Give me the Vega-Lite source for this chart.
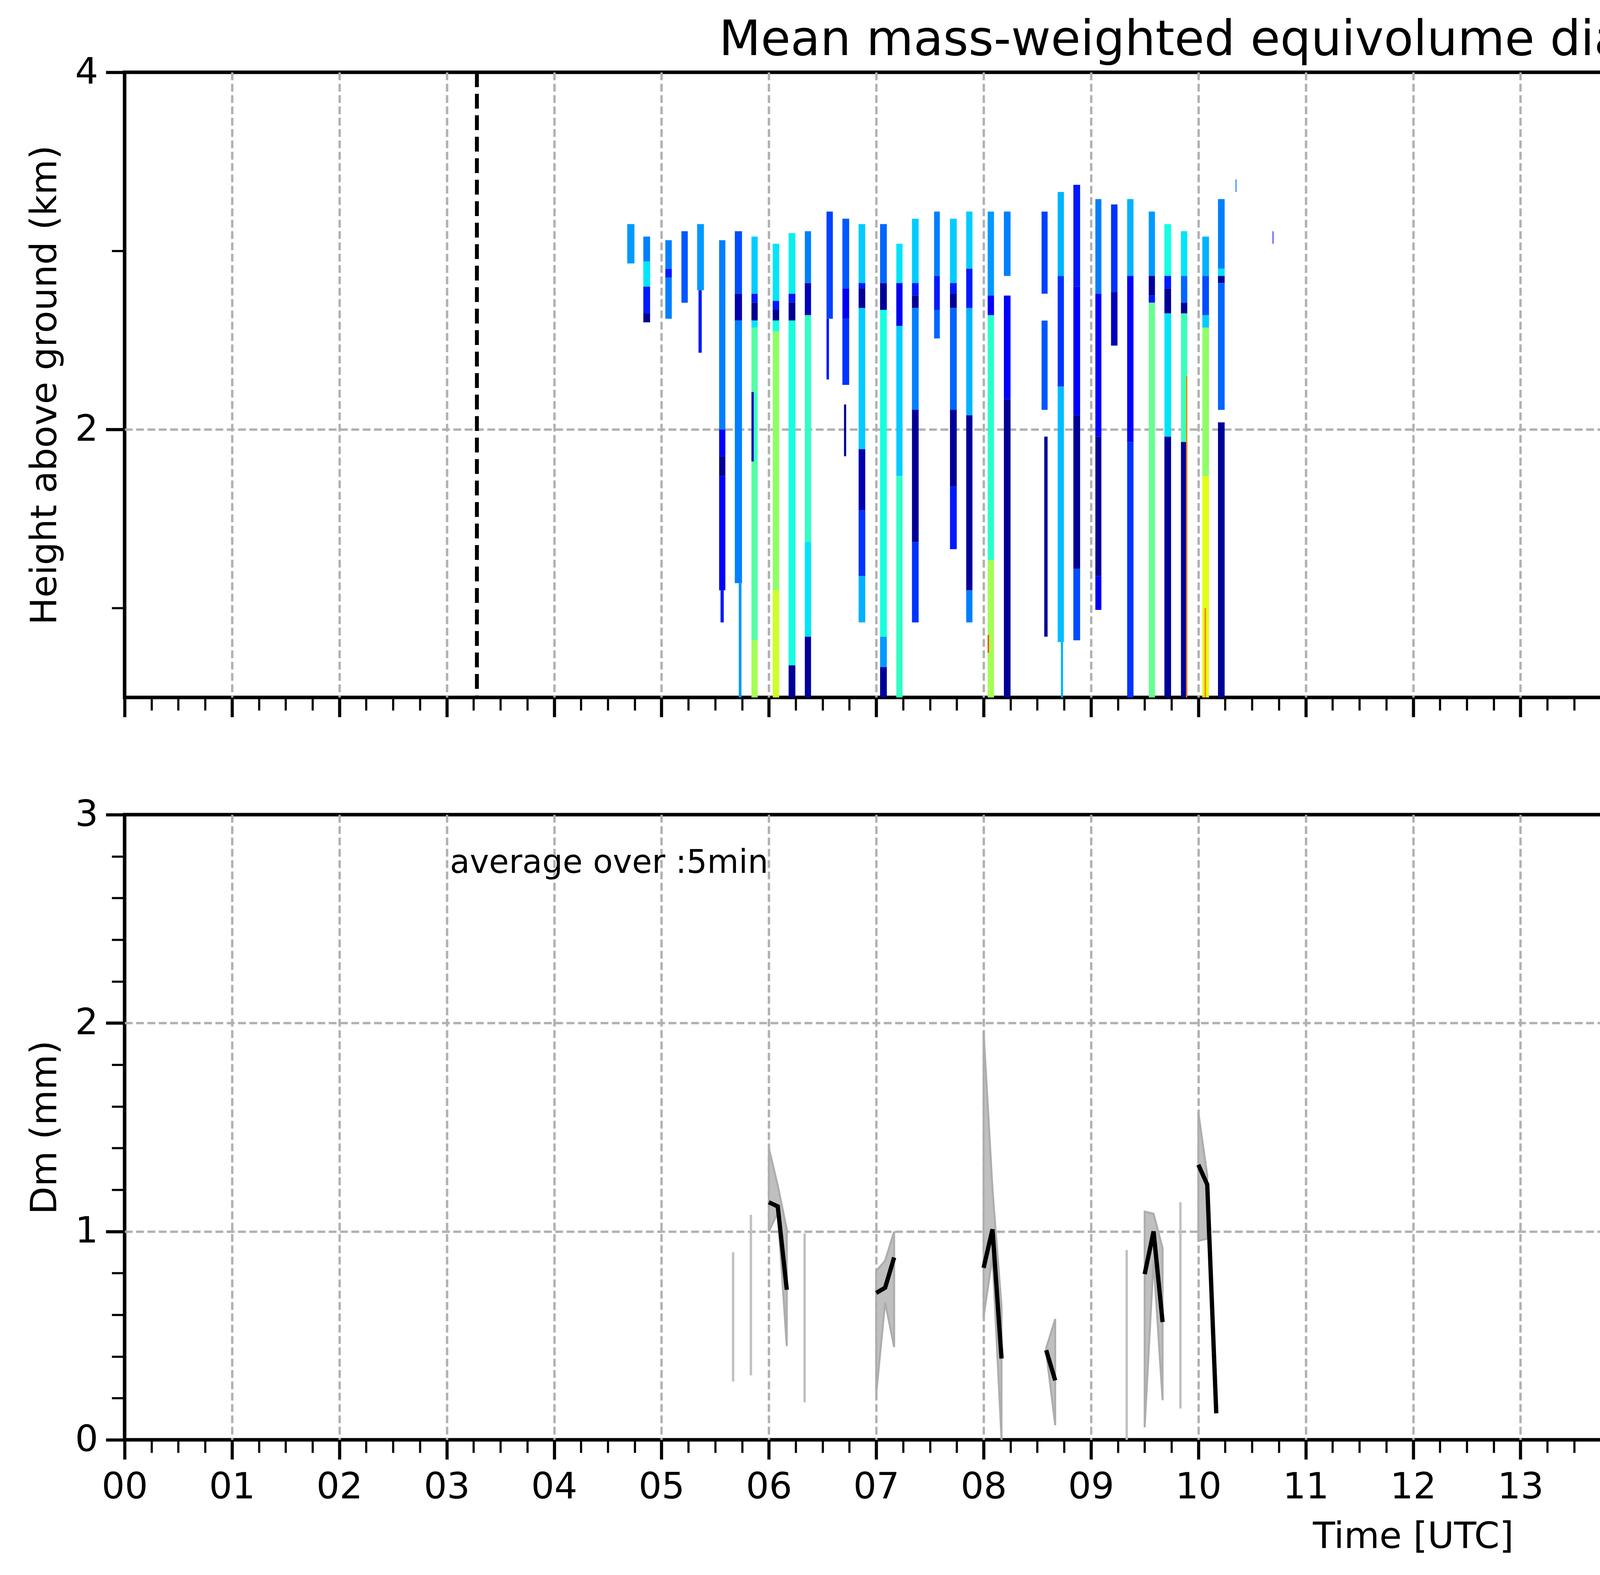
{
  "$schema": "https://vega.github.io/schema/vega-lite/v6.json",
  "padding": {"left": 65, "top": 37, "right": 20, "bottom": 20},
  "background": "white",
  "spacing": 300,
  "bounds": "flush",
  "datasets": {
    "nodata": [{"t": 23.9, "t2": 24}],
    "sun": [{"t": 3.281}, {"t": 19.105}],
    "cells": [
      {"t": 4.681, "t2": 4.748, "z": 3.15, "z2": 2.93, "dm": 0.55},
      {"t": 4.831, "t2": 4.894, "z": 3.08, "z2": 2.94, "dm": 0.5},
      {"t": 4.831, "t2": 4.894, "z": 2.94, "z2": 2.80, "dm": 0.7},
      {"t": 4.831, "t2": 4.894, "z": 2.80, "z2": 2.65, "dm": 0.3},
      {"t": 4.831, "t2": 4.894, "z": 2.65, "z2": 2.60, "dm": 0.03},
      {"t": 5.036, "t2": 5.096, "z": 3.06, "z2": 2.90, "dm": 0.5},
      {"t": 5.036, "t2": 5.096, "z": 2.90, "z2": 2.85, "dm": 0.3},
      {"t": 5.036, "t2": 5.096, "z": 2.85, "z2": 2.62, "dm": 0.5},
      {"t": 5.186, "t2": 5.245, "z": 3.11, "z2": 2.71, "dm": 0.42},
      {"t": 5.332, "t2": 5.395, "z": 3.15, "z2": 2.78, "dm": 0.55},
      {"t": 5.345, "t2": 5.375, "z": 2.78, "z2": 2.43, "dm": 0.3},
      {"t": 5.537, "t2": 5.595, "z": 3.06, "z2": 2.00, "dm": 0.5},
      {"t": 5.537, "t2": 5.595, "z": 2.00, "z2": 1.85, "dm": 0.25},
      {"t": 5.537, "t2": 5.595, "z": 1.85, "z2": 1.74, "dm": 0.04},
      {"t": 5.537, "t2": 5.595, "z": 1.74, "z2": 1.10, "dm": 0.25},
      {"t": 5.55, "t2": 5.58, "z": 1.10, "z2": 0.92, "dm": 0.3},
      {"t": 5.683, "t2": 5.750, "z": 3.11, "z2": 2.76, "dm": 0.4},
      {"t": 5.683, "t2": 5.750, "z": 2.76, "z2": 2.61, "dm": 0.08},
      {"t": 5.683, "t2": 5.750, "z": 2.61, "z2": 1.14, "dm": 0.5},
      {"t": 5.72, "t2": 5.745, "z": 1.14, "z2": 0.5, "dm": 0.55},
      {"t": 5.838, "t2": 5.896, "z": 3.08, "z2": 2.76, "dm": 0.65},
      {"t": 5.838, "t2": 5.896, "z": 2.76, "z2": 2.71, "dm": 0.3},
      {"t": 5.838, "t2": 5.896, "z": 2.71, "z2": 2.61, "dm": 0.03},
      {"t": 5.838, "t2": 5.896, "z": 2.61, "z2": 2.57, "dm": 0.7},
      {"t": 5.838, "t2": 5.896, "z": 2.57, "z2": 2.21, "dm": 0.9},
      {"t": 5.838, "t2": 5.86, "z": 2.21, "z2": 1.82, "dm": 0.1},
      {"t": 5.86, "t2": 5.896, "z": 2.21, "z2": 1.82, "dm": 0.85},
      {"t": 5.838, "t2": 5.896, "z": 1.82, "z2": 0.82, "dm": 0.9},
      {"t": 5.838, "t2": 5.896, "z": 0.82, "z2": 0.5, "dm": 1.1},
      {"t": 6.036, "t2": 6.096, "z": 3.04, "z2": 2.72, "dm": 0.7},
      {"t": 6.036, "t2": 6.096, "z": 2.72, "z2": 2.67, "dm": 0.3},
      {"t": 6.036, "t2": 6.096, "z": 2.67, "z2": 2.61, "dm": 0.03},
      {"t": 6.036, "t2": 6.096, "z": 2.61, "z2": 2.55, "dm": 0.75},
      {"t": 6.036, "t2": 6.096, "z": 2.55, "z2": 1.10, "dm": 1.05},
      {"t": 6.036, "t2": 6.096, "z": 1.10, "z2": 0.5, "dm": 1.2},
      {"t": 6.184, "t2": 6.247, "z": 3.10, "z2": 2.76, "dm": 0.72},
      {"t": 6.184, "t2": 6.247, "z": 2.76, "z2": 2.71, "dm": 0.3},
      {"t": 6.184, "t2": 6.247, "z": 2.71, "z2": 2.61, "dm": 0.03},
      {"t": 6.184, "t2": 6.247, "z": 2.61, "z2": 0.68, "dm": 0.75},
      {"t": 6.184, "t2": 6.247, "z": 0.68, "z2": 0.5, "dm": 0.04},
      {"t": 6.335, "t2": 6.393, "z": 3.11, "z2": 2.82, "dm": 0.5},
      {"t": 6.335, "t2": 6.393, "z": 2.82, "z2": 2.64, "dm": 0.1},
      {"t": 6.335, "t2": 6.393, "z": 2.64, "z2": 1.37, "dm": 0.82},
      {"t": 6.335, "t2": 6.393, "z": 1.37, "z2": 0.84, "dm": 0.7},
      {"t": 6.335, "t2": 6.393, "z": 0.84, "z2": 0.5, "dm": 0.05},
      {"t": 6.537, "t2": 6.596, "z": 3.22, "z2": 2.62, "dm": 0.38},
      {"t": 6.537, "t2": 6.56, "z": 2.62, "z2": 2.28, "dm": 0.3},
      {"t": 6.685, "t2": 6.748, "z": 3.18, "z2": 2.79, "dm": 0.42},
      {"t": 6.685, "t2": 6.748, "z": 2.79, "z2": 2.62, "dm": 0.2},
      {"t": 6.685, "t2": 6.748, "z": 2.62, "z2": 2.25, "dm": 0.35},
      {"t": 6.70, "t2": 6.72, "z": 2.14, "z2": 1.85, "dm": 0.03},
      {"t": 6.836, "t2": 6.898, "z": 3.15, "z2": 2.82, "dm": 0.65},
      {"t": 6.836, "t2": 6.898, "z": 2.82, "z2": 2.79, "dm": 0.3},
      {"t": 6.836, "t2": 6.898, "z": 2.79, "z2": 2.68, "dm": 0.04},
      {"t": 6.836, "t2": 6.898, "z": 2.68, "z2": 1.89, "dm": 0.65},
      {"t": 6.836, "t2": 6.898, "z": 1.89, "z2": 1.55, "dm": 0.08},
      {"t": 6.836, "t2": 6.898, "z": 1.55, "z2": 1.18, "dm": 0.35},
      {"t": 6.836, "t2": 6.898, "z": 1.18, "z2": 0.92, "dm": 0.6},
      {"t": 7.036, "t2": 7.099, "z": 3.15, "z2": 2.82, "dm": 0.45},
      {"t": 7.036, "t2": 7.099, "z": 2.82, "z2": 2.67, "dm": 0.04},
      {"t": 7.036, "t2": 7.099, "z": 2.67, "z2": 0.84, "dm": 0.75},
      {"t": 7.036, "t2": 7.099, "z": 0.84, "z2": 0.67, "dm": 0.55},
      {"t": 7.036, "t2": 7.099, "z": 0.67, "z2": 0.5, "dm": 0.04},
      {"t": 7.187, "t2": 7.245, "z": 3.04, "z2": 2.82, "dm": 0.7},
      {"t": 7.187, "t2": 7.245, "z": 2.82, "z2": 2.58, "dm": 0.2},
      {"t": 7.187, "t2": 7.245, "z": 2.58, "z2": 1.74, "dm": 0.65},
      {"t": 7.187, "t2": 7.245, "z": 1.74, "z2": 0.5, "dm": 0.82},
      {"t": 7.333, "t2": 7.395, "z": 3.18, "z2": 2.82, "dm": 0.65},
      {"t": 7.333, "t2": 7.395, "z": 2.82, "z2": 2.75, "dm": 0.3},
      {"t": 7.333, "t2": 7.395, "z": 2.75, "z2": 2.68, "dm": 0.04},
      {"t": 7.333, "t2": 7.395, "z": 2.68, "z2": 2.11, "dm": 0.5},
      {"t": 7.333, "t2": 7.395, "z": 2.11, "z2": 1.37, "dm": 0.04},
      {"t": 7.333, "t2": 7.395, "z": 1.37, "z2": 0.92, "dm": 0.35},
      {"t": 7.539, "t2": 7.592, "z": 3.22, "z2": 2.86, "dm": 0.5},
      {"t": 7.539, "t2": 7.592, "z": 2.86, "z2": 2.67, "dm": 0.3},
      {"t": 7.539, "t2": 7.592, "z": 2.67, "z2": 2.51, "dm": 0.45},
      {"t": 7.687, "t2": 7.750, "z": 3.18, "z2": 2.82, "dm": 0.65},
      {"t": 7.687, "t2": 7.750, "z": 2.82, "z2": 2.76, "dm": 0.3},
      {"t": 7.687, "t2": 7.750, "z": 2.76, "z2": 2.68, "dm": 0.04},
      {"t": 7.687, "t2": 7.750, "z": 2.68, "z2": 2.11, "dm": 0.45},
      {"t": 7.687, "t2": 7.750, "z": 2.11, "z2": 1.68, "dm": 0.04},
      {"t": 7.687, "t2": 7.750, "z": 1.68, "z2": 1.33, "dm": 0.3},
      {"t": 7.838, "t2": 7.896, "z": 3.22, "z2": 2.90, "dm": 0.65},
      {"t": 7.838, "t2": 7.896, "z": 2.90, "z2": 2.68, "dm": 0.3},
      {"t": 7.838, "t2": 7.896, "z": 2.68, "z2": 2.08, "dm": 0.6},
      {"t": 7.838, "t2": 7.896, "z": 2.08, "z2": 1.10, "dm": 0.04},
      {"t": 7.838, "t2": 7.896, "z": 1.10, "z2": 0.92, "dm": 0.5},
      {"t": 8.038, "t2": 8.097, "z": 3.22, "z2": 2.75, "dm": 0.55},
      {"t": 8.038, "t2": 8.097, "z": 2.75, "z2": 2.64, "dm": 0.25},
      {"t": 8.038, "t2": 8.097, "z": 2.64, "z2": 1.27, "dm": 0.8},
      {"t": 8.038, "t2": 8.097, "z": 1.27, "z2": 0.5, "dm": 1.1},
      {"t": 8.038, "t2": 8.05, "z": 0.85, "z2": 0.75, "dm": 1.7},
      {"t": 8.189, "t2": 8.251, "z": 3.22, "z2": 2.86, "dm": 0.5},
      {"t": 8.189, "t2": 8.251, "z": 2.75, "z2": 2.17, "dm": 0.25},
      {"t": 8.189, "t2": 8.251, "z": 2.17, "z2": 0.5, "dm": 0.04},
      {"t": 8.540, "t2": 8.596, "z": 3.22, "z2": 2.76, "dm": 0.38},
      {"t": 8.540, "t2": 8.596, "z": 2.61, "z2": 2.11, "dm": 0.42},
      {"t": 8.565, "t2": 8.596, "z": 1.96, "z2": 0.84, "dm": 0.04},
      {"t": 8.690, "t2": 8.748, "z": 3.33, "z2": 2.86, "dm": 0.6},
      {"t": 8.690, "t2": 8.748, "z": 2.86, "z2": 2.24, "dm": 0.35},
      {"t": 8.690, "t2": 8.748, "z": 2.24, "z2": 0.81, "dm": 0.62},
      {"t": 8.72, "t2": 8.74, "z": 0.81, "z2": 0.5, "dm": 0.6},
      {"t": 8.836, "t2": 8.899, "z": 3.37, "z2": 2.80, "dm": 0.3},
      {"t": 8.836, "t2": 8.899, "z": 2.80, "z2": 2.08, "dm": 0.25},
      {"t": 8.836, "t2": 8.899, "z": 2.08, "z2": 1.22, "dm": 0.04},
      {"t": 8.836, "t2": 8.899, "z": 1.22, "z2": 0.82, "dm": 0.4},
      {"t": 9.041, "t2": 9.097, "z": 3.29, "z2": 2.76, "dm": 0.5},
      {"t": 9.041, "t2": 9.097, "z": 2.76, "z2": 1.96, "dm": 0.25},
      {"t": 9.041, "t2": 9.097, "z": 1.96, "z2": 1.18, "dm": 0.04},
      {"t": 9.041, "t2": 9.097, "z": 1.18, "z2": 0.99, "dm": 0.2},
      {"t": 9.187, "t2": 9.247, "z": 3.26, "z2": 2.77, "dm": 0.35},
      {"t": 9.187, "t2": 9.247, "z": 2.77, "z2": 2.47, "dm": 0.1},
      {"t": 9.337, "t2": 9.396, "z": 3.29, "z2": 2.86, "dm": 0.6},
      {"t": 9.337, "t2": 9.396, "z": 2.86, "z2": 1.93, "dm": 0.22},
      {"t": 9.337, "t2": 9.396, "z": 1.93, "z2": 0.5, "dm": 0.35},
      {"t": 9.538, "t2": 9.596, "z": 3.22, "z2": 2.86, "dm": 0.55},
      {"t": 9.538, "t2": 9.596, "z": 2.86, "z2": 2.75, "dm": 0.04},
      {"t": 9.538, "t2": 9.596, "z": 2.75, "z2": 2.71, "dm": 0.3},
      {"t": 9.538, "t2": 9.596, "z": 2.71, "z2": 0.5, "dm": 0.95},
      {"t": 9.684, "t2": 9.746, "z": 3.15, "z2": 2.86, "dm": 0.75},
      {"t": 9.684, "t2": 9.746, "z": 2.86, "z2": 2.79, "dm": 0.3},
      {"t": 9.684, "t2": 9.746, "z": 2.79, "z2": 2.65, "dm": 0.04},
      {"t": 9.684, "t2": 9.746, "z": 2.65, "z2": 1.96, "dm": 0.7},
      {"t": 9.684, "t2": 9.746, "z": 1.96, "z2": 0.5, "dm": 0.04},
      {"t": 9.838, "t2": 9.897, "z": 3.11, "z2": 2.86, "dm": 0.7},
      {"t": 9.838, "t2": 9.897, "z": 2.86, "z2": 2.71, "dm": 0.45},
      {"t": 9.838, "t2": 9.897, "z": 2.71, "z2": 2.65, "dm": 0.04},
      {"t": 9.838, "t2": 9.897, "z": 2.65, "z2": 1.93, "dm": 0.85},
      {"t": 9.838, "t2": 9.897, "z": 1.93, "z2": 0.5, "dm": 0.04},
      {"t": 9.885, "t2": 9.897, "z": 2.30, "z2": 0.5, "dm": 1.55},
      {"t": 10.037, "t2": 10.099, "z": 3.08, "z2": 2.86, "dm": 0.6},
      {"t": 10.037, "t2": 10.099, "z": 2.86, "z2": 2.64, "dm": 0.4},
      {"t": 10.037, "t2": 10.099, "z": 2.64, "z2": 2.57, "dm": 0.65},
      {"t": 10.037, "t2": 10.099, "z": 2.57, "z2": 1.74, "dm": 1.05},
      {"t": 10.037, "t2": 10.099, "z": 1.74, "z2": 0.5, "dm": 1.25},
      {"t": 10.058, "t2": 10.072, "z": 1.0, "z2": 0.5, "dm": 1.55},
      {"t": 10.183, "t2": 10.245, "z": 3.29, "z2": 2.90, "dm": 0.5},
      {"t": 10.183, "t2": 10.245, "z": 2.90, "z2": 2.86, "dm": 0.7},
      {"t": 10.183, "t2": 10.245, "z": 2.86, "z2": 2.82, "dm": 0.04},
      {"t": 10.183, "t2": 10.245, "z": 2.82, "z2": 2.11, "dm": 0.45},
      {"t": 10.183, "t2": 10.245, "z": 2.04, "z2": 0.5, "dm": 0.04},
      {"t": 10.347, "t2": 10.355, "z": 3.40, "z2": 3.33, "dm": 0.45},
      {"t": 10.692, "t2": 10.699, "z": 3.11, "z2": 3.04, "dm": 0.25}
    ],
    "dm": [
      {"seg": "a", "t": 5.667, "mean": null, "lo": 0.28, "hi": 0.90},
      {"seg": "b", "t": 5.833, "mean": null, "lo": 0.31, "hi": 1.08},
      {"seg": "c", "t": 6.0, "mean": 1.14, "lo": 1.0, "hi": 1.40},
      {"seg": "c", "t": 6.083, "mean": 1.12, "lo": 1.09, "hi": 1.22},
      {"seg": "c", "t": 6.167, "mean": 0.72, "lo": 0.45, "hi": 1.01},
      {"seg": "d", "t": 6.333, "mean": null, "lo": 0.18, "hi": 0.99},
      {"seg": "e", "t": 7.0, "mean": 0.705, "lo": 0.22, "hi": 0.81},
      {"seg": "e", "t": 7.083, "mean": 0.73, "lo": 0.66, "hi": 0.86},
      {"seg": "e", "t": 7.167, "mean": 0.875, "lo": 0.445, "hi": 1.0},
      {"seg": "f", "t": 8.0, "mean": 0.825, "lo": 0.59, "hi": 1.96},
      {"seg": "f", "t": 8.083, "mean": 1.01, "lo": 0.88, "hi": 1.2},
      {"seg": "f", "t": 8.167, "mean": 0.39, "lo": 0.0, "hi": 0.64},
      {"seg": "g", "t": 8.583, "mean": 0.43, "lo": 0.42, "hi": 0.44},
      {"seg": "g", "t": 8.667, "mean": 0.285, "lo": 0.07, "hi": 0.58},
      {"seg": "h", "t": 9.333, "mean": null, "lo": 0.0, "hi": 0.91},
      {"seg": "i", "t": 9.5, "mean": 0.795, "lo": 0.06, "hi": 1.095},
      {"seg": "i", "t": 9.583, "mean": 1.0, "lo": 0.86, "hi": 1.085},
      {"seg": "i", "t": 9.667, "mean": 0.565, "lo": 0.19, "hi": 0.92},
      {"seg": "j", "t": 9.833, "mean": null, "lo": 0.15, "hi": 1.14},
      {"seg": "k", "t": 10.0, "mean": 1.32, "lo": 0.955, "hi": 1.57},
      {"seg": "k", "t": 10.083, "mean": 1.225, "lo": 0.965, "hi": 1.27},
      {"seg": "k", "t": 10.167, "mean": 0.127, "lo": null, "hi": null}
    ],
    "note": [{"t": 3.03, "y": 2.72, "label": "average over :5min"}]
  },
  "vconcat": [
    {
      "width": 6597,
      "height": 1600,
      "title": {"text": "Mean mass-weighted equivolume diameter on 20250601", "fontSize": 124, "fontWeight": "normal", "anchor": "middle", "baseline": "alphabetic", "offset": -126},
      "layer": [
        {
          "data": {"name": "nodata"},
          "mark": {"type": "rect", "color": "#d9d9d9"},
          "encoding": {
            "x": {
              "field": "t", "type": "quantitative",
              "scale": {"domain": [0, 24], "nice": false, "zero": false},
              "axis": {
                "title": null, "labels": false,
                "values": [0,0.25,0.5,0.75,1,1.25,1.5,1.75,2,2.25,2.5,2.75,3,3.25,3.5,3.75,4,4.25,4.5,4.75,5,5.25,5.5,5.75,6,6.25,6.5,6.75,7,7.25,7.5,7.75,8,8.25,8.5,8.75,9,9.25,9.5,9.75,10,10.25,10.5,10.75,11,11.25,11.5,11.75,12,12.25,12.5,12.75,13,13.25,13.5,13.75,14,14.25,14.5,14.75,15,15.25,15.5,15.75,16,16.25,16.5,16.75,17,17.25,17.5,17.75,18,18.25,18.5,18.75,19,19.25,19.5,19.75,20,20.25,20.5,20.75,21,21.25,21.5,21.75,22,22.25,22.5,22.75,23,23.25,23.5,23.75,24],
                "tickSize": {"condition": {"test": "datum.value % 1 === 0 && datum.value < 24", "value": 50}, "value": 33},
                "tickWidth": {"condition": {"test": "datum.value % 1 === 0 && datum.value < 24", "value": 8}, "value": 5.5},
                "gridOpacity": {"condition": {"test": "datum.value % 1 === 0 && datum.value > 0 && datum.value < 24", "value": 1}, "value": 0}
              }
            },
            "x2": {"field": "t2"}
          }
        },
        {
          "data": {"name": "cells"},
          "mark": {"type": "rect"},
          "encoding": {
            "x": {"field": "t", "type": "quantitative"},
            "x2": {"field": "t2"},
            "y": {
              "field": "z", "type": "quantitative",
              "scale": {"domain": [0.5, 4], "nice": false, "zero": false},
              "axis": {
                "title": "Height above ground (km)",
                "values": [1, 2, 3, 4],
                "labelExpr": "datum.value % 2 === 0 ? format(datum.value, 'd') : ''",
                "tickSize": {"condition": {"test": "datum.value % 2 === 0", "value": 48}, "value": 33},
                "tickWidth": {"condition": {"test": "datum.value % 2 === 0", "value": 8}, "value": 5.5},
                "gridOpacity": {"condition": {"test": "datum.value === 2", "value": 1}, "value": 0},
                "titlePadding": 28
              }
            },
            "y2": {"field": "z2"},
            "color": {
              "field": "dm", "type": "quantitative",
              "scale": {
                "domain": [0, 0.22, 0.25, 0.68, 0.70, 0.75, 1.28, 1.30, 1.32, 1.78, 1.82, 2.0],
                "range": ["#000080", "#0000ff", "#0000ff", "#00dbff", "#00e5f8", "#14ffe2", "#eeff08", "#f7f500", "#ffec00", "#ff1300", "#e80000", "#800000"],
                "interpolate": "rgb"
              },
              "legend": {
                "title": "Dm (mm)",
                "values": [0, 0.4, 0.8, 1.2, 1.6, 2.0],
                "format": ".1f",
                "orient": "right",
                "offset": 72,
                "gradientLength": 1600,
                "gradientThickness": 112,
                "gradientStrokeColor": "black",
                "gradientStrokeWidth": 5,
                "labelFontSize": 78,
                "labelOffset": 50,
                "labelBaseline": "middle",
                "labelOverlap": false,
                "titleOrient": "right",
                "titleFontSize": 78,
                "titleFontWeight": "normal",
                "titleAnchor": "middle",
                "titlePadding": 105,
                "titleLimit": 2000,
                "encoding": {"title": {"angle": {"value": 270}}}
              }
            }
          }
        },
        {
          "data": {"name": "sun"},
          "mark": {"type": "rule", "color": "black", "strokeWidth": 10, "strokeDash": [38, 17]},
          "encoding": {"x": {"field": "t", "type": "quantitative"}}
        }
      ]
    },
    {
      "width": 6597,
      "height": 1600,
      "layer": [
        {
          "data": {"name": "dm"},
          "mark": {"type": "area", "fill": "#bfbfbf", "stroke": "#adadad", "strokeWidth": 5, "opacity": 1},
          "encoding": {
            "x": {
              "field": "t", "type": "quantitative",
              "scale": {"domain": [0, 24], "nice": false, "zero": false},
              "axis": {
                "title": "Time [UTC]",
                "values": [0,0.25,0.5,0.75,1,1.25,1.5,1.75,2,2.25,2.5,2.75,3,3.25,3.5,3.75,4,4.25,4.5,4.75,5,5.25,5.5,5.75,6,6.25,6.5,6.75,7,7.25,7.5,7.75,8,8.25,8.5,8.75,9,9.25,9.5,9.75,10,10.25,10.5,10.75,11,11.25,11.5,11.75,12,12.25,12.5,12.75,13,13.25,13.5,13.75,14,14.25,14.5,14.75,15,15.25,15.5,15.75,16,16.25,16.5,16.75,17,17.25,17.5,17.75,18,18.25,18.5,18.75,19,19.25,19.5,19.75,20,20.25,20.5,20.75,21,21.25,21.5,21.75,22,22.25,22.5,22.75,23,23.25,23.5,23.75,24],
                "labelExpr": "datum.value % 1 === 0 && datum.value < 24 ? (datum.value < 10 ? '0' : '') + format(datum.value, 'd') : ''",
                "tickSize": {"condition": {"test": "datum.value % 1 === 0 && datum.value < 24", "value": 50}, "value": 33},
                "tickWidth": {"condition": {"test": "datum.value % 1 === 0 && datum.value < 24", "value": 8}, "value": 5.5},
                "gridOpacity": {"condition": {"test": "datum.value % 1 === 0 && datum.value > 0 && datum.value < 24", "value": 1}, "value": 0},
                "labelPadding": 26,
                "titlePadding": 35
              }
            },
            "y": {
              "field": "lo", "type": "quantitative",
              "scale": {"domain": [0, 3], "nice": false, "zero": false},
              "axis": {
                "title": "Dm (mm)",
                "values": [0, 0.2, 0.4, 0.6, 0.8, 1, 1.2, 1.4, 1.6, 1.8, 2, 2.2, 2.4, 2.6, 2.8, 3],
                "labelExpr": "datum.value % 1 === 0 ? format(datum.value, 'd') : ''",
                "tickSize": {"condition": {"test": "datum.value % 1 === 0", "value": 48}, "value": 33},
                "tickWidth": {"condition": {"test": "datum.value % 1 === 0", "value": 8}, "value": 5.5},
                "gridOpacity": {"condition": {"test": "datum.value === 1 || datum.value === 2", "value": 1}, "value": 0},
                "titlePadding": 28
              }
            },
            "y2": {"field": "hi"},
            "detail": {"field": "seg"}
          }
        },
        {
          "data": {"name": "dm"},
          "transform": [
            {"joinaggregate": [{"op": "count", "as": "n"}], "groupby": ["seg"]},
            {"filter": "datum.n === 1"}
          ],
          "mark": {"type": "rule", "color": "#c0c0c0", "strokeWidth": 6},
          "encoding": {
            "x": {"field": "t", "type": "quantitative"},
            "y": {"field": "lo", "type": "quantitative"},
            "y2": {"field": "hi"}
          }
        },
        {
          "data": {"name": "dm"},
          "mark": {"type": "line", "color": "black", "strokeWidth": 11},
          "encoding": {
            "x": {"field": "t", "type": "quantitative"},
            "y": {"field": "mean", "type": "quantitative"},
            "detail": {"field": "seg"}
          }
        },
        {
          "data": {"name": "note"},
          "mark": {"type": "text", "align": "left", "baseline": "alphabetic", "fontSize": 83, "color": "black"},
          "encoding": {
            "x": {"field": "t", "type": "quantitative"},
            "y": {"field": "y", "type": "quantitative"},
            "text": {"field": "label"}
          }
        }
      ]
    }
  ],
  "config": {
    "font": "DejaVu Sans",
    "view": {"stroke": "black", "strokeWidth": 9},
    "axis": {
      "domain": false,
      "grid": true,
      "gridColor": "#b0b0b0",
      "gridDash": [20, 9],
      "gridWidth": 6,
      "tickColor": "black",
      "labelColor": "black",
      "titleColor": "black",
      "labelFontSize": 93,
      "titleFontSize": 93,
      "titleFontWeight": "normal",
      "labelPadding": 20,
      "labelFlush": false,
      "labelOverlap": false
    },
    "title": {"color": "black"}
  }
}
